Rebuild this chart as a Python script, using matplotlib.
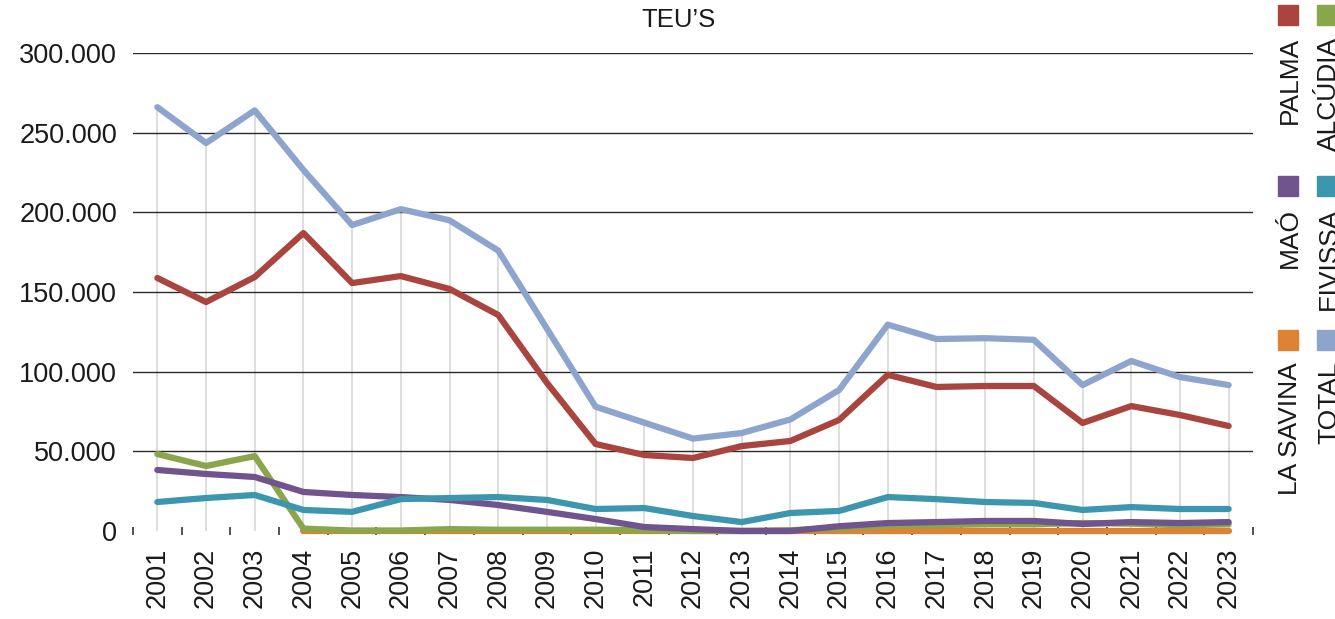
import numpy as np
import matplotlib
matplotlib.use("Agg")
from matplotlib import pyplot as plt
from matplotlib.patches import Rectangle
from matplotlib.ticker import FuncFormatter, FixedLocator

# TEU's by port, thousands
years = list(range(2001, 2024))
palma = [158.8, 143.7, 159.4, 187.0, 155.6, 160.0, 151.9, 135.6, 93.0, 54.6, 47.7, 45.8,
         53.3, 56.5, 69.7, 98.0, 90.4, 91.0, 91.0, 67.8, 78.4, 72.8, 65.9]
alcudia = [48.3, 40.8, 47.0, 1.5, 0.3, 0.3, 1.2, 0.8, 0.8, 0.8, 0.5, 0.0,
           0.0, 0.5, 1.8, 3.4, 3.7, 4.2, 4.2, 5.0, 4.6, 3.6, 4.2]
mao = [38.3, 35.8, 33.9, 24.5, 22.6, 21.3, 19.5, 16.3, 12.0, 7.5, 2.5, 1.2,
       0.0, 0.0, 3.0, 5.0, 5.6, 6.3, 6.3, 4.4, 5.6, 5.0, 5.6]
eivissa = [18.2, 20.7, 22.6, 13.2, 12.0, 20.0, 20.7, 21.3, 19.5, 13.8, 14.4, 9.4,
           5.6, 11.3, 12.6, 21.3, 20.0, 18.2, 17.6, 13.2, 15.0, 13.8, 13.8]
savina = [np.nan, np.nan, np.nan, 0, 0, 0, 0, 0, 0, 0, 0, 0,
          0, 0, 0, 0, 0, 0, 0, 0, 0, 0, 0]
total = [266.0, 243.5, 264.0, 226.6, 192.0, 202.0, 195.0, 176.0, 127.0, 78.0, 68.0, 58.0,
         61.5, 70.0, 88.5, 129.5, 120.5, 121.0, 120.0, 91.6, 106.7, 96.6, 91.6]

labels = ["PALMA", "ALCÚDIA", "MAÓ", "EIVISSA", "LA SAVINA", "TOTAL"]
colors = ["#A9443F", "#8AA64A", "#6F548E", "#3C97AE", "#DE8235", "#8DA5CD"]
series = [palma, alcudia, mao, eivissa, savina, total]
zorders = [4, 5, 6, 7, 3, 8]

plt.rcParams['font.family'] = ['Liberation Sans', 'DejaVu Sans']

fig = plt.figure(figsize=(13.35, 6.19), dpi=100)
ax = fig.add_axes([133 / 1335, 88 / 619, 1120 / 1335, 478 / 619])

yrs = np.array(years)
# drop lines from the highest series
ax.vlines(yrs, 0, np.array(total) * 1000, color="#DEDEDE", lw=1.4, zorder=1)

for s, c, z in zip(series, colors, zorders):
    ax.plot(yrs, np.array(s) * 1000, color=c, lw=4.5, zorder=z, clip_on=False,
            solid_capstyle="round", solid_joinstyle="round")

ax.set_xlim(2000.5, 2023.5)
ax.set_ylim(0, 300000)
ax.set_yticks(np.arange(0, 300001, 50000))
ax.yaxis.set_major_formatter(FuncFormatter(lambda v, p: f"{int(v):,}".replace(",", ".")))
for v in range(50000, 300001, 50000):
    ax.axhline(v, color="#2a2a2a", lw=1.0, zorder=2)

ax.set_xticks(years)
ax.set_xticklabels([str(y) for y in years], rotation=90)
ax.xaxis.set_minor_locator(FixedLocator(np.arange(2000.5, 2024, 1)))
ax.tick_params(axis="x", which="major", length=0, pad=12, labelsize=19.5, labelcolor="#1a1a1a")
ax.tick_params(axis="x", which="minor", length=6, width=1.2, direction="inout", color="#333333")
ax.tick_params(axis="y", length=0, pad=11.5, labelsize=19.5, labelcolor="#1a1a1a")

for sp in ax.spines.values():
    sp.set_visible(False)

fig.text(0.508, 0.968, "TEU’S", ha="center", va="center", fontsize=18.5, color="#1a1a1a")

# legend, two columns of rotated labels at the right edge
col_x = [1278, 1317]
row_y = [5, 176, 330]
for i, (lab, c) in enumerate(zip(labels, colors)):
    row, col = divmod(i, 2)
    x0 = col_x[col]
    y0 = row_y[row]
    fig.patches.append(Rectangle((x0 / 1335, 1 - (y0 + 20) / 619), 20 / 1335, 20 / 619,
                                 transform=fig.transFigure, color=c))
    fig.text((x0 + 12) / 1335, 1 - (y0 + 32) / 619, lab, rotation=90, ha="center", va="top",
             fontsize=19, color="#1a1a1a")

fig.savefig("out.png", dpi=100)
